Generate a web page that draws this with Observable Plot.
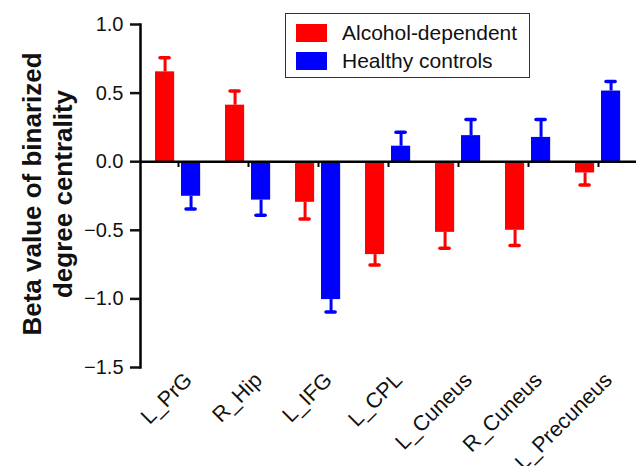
<!DOCTYPE html>
<html>
<head>
<meta charset="utf-8">
<script src="https://cdn.jsdelivr.net/npm/d3@7"></script>
<script src="https://cdn.jsdelivr.net/npm/@observablehq/plot@0.6"></script>
<style>
  body { margin: 0; background: #fff; }
  #wrap { position: relative; width: 639px; height: 466px; font-family: "Liberation Sans", Arial, sans-serif; }
  #legend { position: absolute; left: 285px; top: 13px; width: 243px; height: 63px; border: 1.5px solid #333; background: #fff; }
  .item { position: absolute; left: 10px; height: 19px; display: flex; align-items: center; font-size: 21px; color: #111; white-space: nowrap; }
  .sw { width: 31px; height: 18px; margin-right: 15px; }
</style>
</head>
<body>
<div id="wrap"></div>
<script>
const regions = ["L_PrG", "R_Hip", "L_IFG", "L_CPL", "L_Cuneus", "R_Cuneus", "L_Precuneus"];
const groups = ["Alcohol-dependent", "Healthy controls"];
const colors = ["#ff0000", "#0000ff"];
const adValues = [0.655, 0.412, -0.296, -0.677, -0.515, -0.50, -0.082];
const adErrors = [0.103, 0.103, 0.122, 0.076, 0.115, 0.11, 0.088];
const hcValues = [-0.252, -0.28, -1.005, 0.113, 0.19, 0.177, 0.515];
const hcErrors = [0.093, 0.11, 0.091, 0.102, 0.118, 0.131, 0.07];
const yTicks = [1.0, 0.5, 0.0, -0.5, -1.0, -1.5];

const ad = regions.map((r, i) => ({region: r, value: adValues[i], tip: adValues[i] + Math.sign(adValues[i]) * adErrors[i]}));
const hc = regions.map((r, i) => ({region: r, value: hcValues[i], tip: hcValues[i] + Math.sign(hcValues[i]) * hcErrors[i]}));

const W = 639, ML = 140, MR = 3;
const step = (W - ML - MR) / regions.length;

const chart = Plot.plot({
  width: 639,
  height: 466,
  marginLeft: ML,
  marginRight: MR,
  marginTop: 24,
  marginBottom: 99,
  style: {fontFamily: "'Liberation Sans', Arial, sans-serif", background: "white", color: "#111"},
  x: {domain: regions, type: "band", paddingInner: 0, paddingOuter: 0},
  y: {domain: [-1.5, 1.0]},
  marks: [
    Plot.barY(ad, {x: "region", y: "value", fill: colors[0], insetLeft: 12, insetRight: step - 32}),
    Plot.barY(hc, {x: "region", y: "value", fill: colors[1], insetLeft: 38, insetRight: step - 58}),
    Plot.ruleX(ad, {x: "region", y1: "value", y2: "tip", dx: 22 - step / 2, stroke: colors[0], strokeWidth: 3}),
    Plot.ruleX(hc, {x: "region", y1: "value", y2: "tip", dx: 48 - step / 2, stroke: colors[1], strokeWidth: 3}),
    Plot.tickY(ad, {x: "region", y: "tip", insetLeft: 17, insetRight: step - 27, stroke: colors[0], strokeWidth: 3.5, strokeLinecap: "round"}),
    Plot.tickY(hc, {x: "region", y: "tip", insetLeft: 43, insetRight: step - 53, stroke: colors[1], strokeWidth: 3.5, strokeLinecap: "round"}),
    Plot.ruleY([0], {stroke: "black", strokeWidth: 2.5}),
    Plot.ruleX(regions, {x: d => d, y1: 0, y2: -0.042, stroke: "black", strokeWidth: 2}),
    Plot.frame({anchor: "left", stroke: "black", strokeWidth: 2.5}),
    Plot.axisY({ticks: yTicks, tickFormat: d3.format(".1f"), tickSize: 10, tickPadding: 7, fontSize: 20, strokeWidth: 2.5, label: null}),
    Plot.axisX({tickSize: 0, tickRotate: -45, fontSize: 21.5, tickPadding: 8, dx: 10, dy: 1, label: null}),
    Plot.text(["Beta value of binarized\ndegree centrality"], {frameAnchor: "left", textAnchor: "middle", rotate: -90, dx: -94, dy: -2, fontSize: 26, fontWeight: "bold", lineHeight: 1.19, fill: "#111"})
  ]
});

const wrap = document.getElementById("wrap");
wrap.appendChild(chart);
const legend = document.createElement("div");
legend.id = "legend";
groups.forEach((g, i) => {
  const item = document.createElement("div");
  item.className = "item";
  item.style.top = (i === 0 ? 9.5 : 37) + "px";
  const sw = document.createElement("div");
  sw.className = "sw";
  sw.style.background = colors[i];
  item.appendChild(sw);
  item.appendChild(document.createTextNode(g));
  legend.appendChild(item);
});
wrap.appendChild(legend);
</script>
</body>
</html>
